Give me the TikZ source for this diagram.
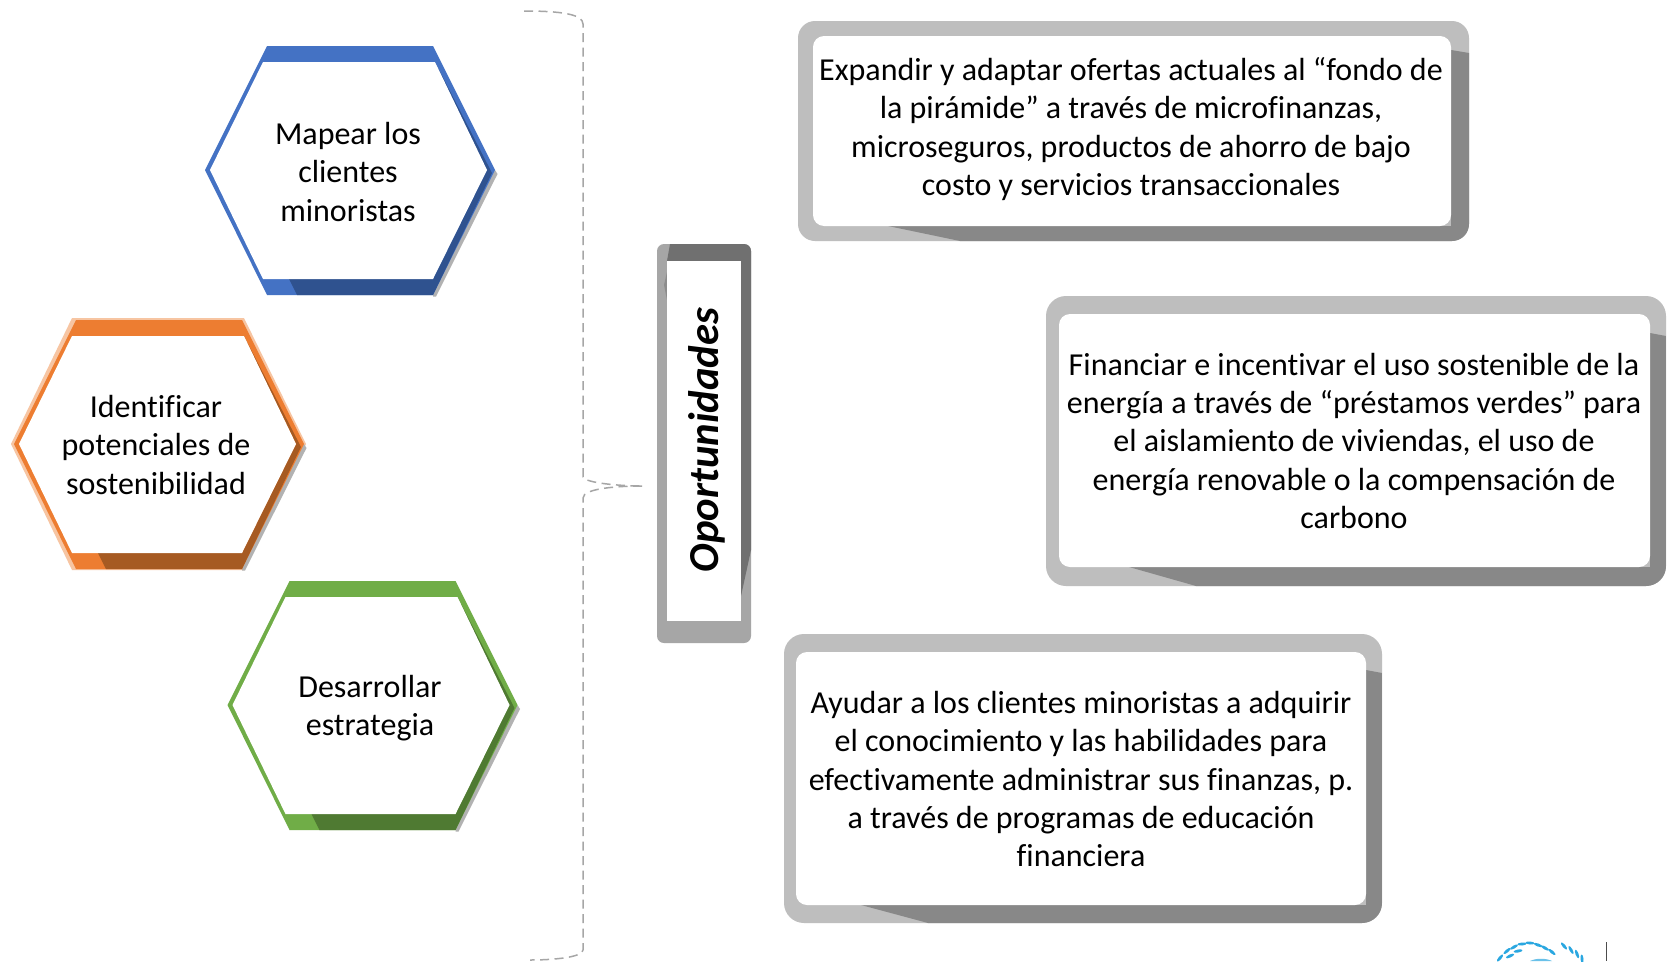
\documentclass[tikz,border=0pt]{standalone}
\usepackage{fontspec}
\setmainfont[Ligatures=NoCommon]{Carlito}
\tikzset{
  txt/.style={align=center,font=\fontsize{32}{38.3}\selectfont,text=black,inner sep=0pt},
  dashline/.style={draw=black!35,line width=1.5pt,dash pattern=on 9pt off 5.5pt},
  leaf/.style={fill=logoblue,draw=none}
}
\newcommand{\hexa}[4]{%
 \begin{scope}[shift={(#3,#4)}]
  \fill[black!30] (495,170)--(497.5,174)--(436,296.5)--(433,296.5)--(433,290)--cycle;
  \fill[#1] (267,46)--(433,46)--(495,170)--(433,295)--(267,295)--(205,170)--cycle;
  \fill[#2] (435,62)--(492,173)--(433,295)--(297,295)--(289,279)--(433,279)--(487,170)--cycle;
  \fill[white] (263,62)--(435,62)--(487,170)--(433,279)--(263,279)--(210,170)--cycle;
 \end{scope}}
\newcommand{\frbox}[4]{% outer rect, inner rect, radius, dark polygon
 \fill[frlight,rounded corners=#3] #1;
 \begin{scope}
  \clip[rounded corners=#3] #1;
  \fill[frdark] #4;
 \end{scope}
 \fill[white,rounded corners=11pt] #2;}
\newcommand{\lf}[3]{\fill[leaf] (#1,#2) ellipse[x radius=4.5pt,y radius=1.5pt,rotate=#3];}
\definecolor{frlight}{HTML}{BEBEBE}
\definecolor{frdark}{HTML}{888888}
\definecolor{blueA}{HTML}{4472C4}
\definecolor{blueB}{HTML}{2F528F}
\definecolor{orangeA}{HTML}{ED7D31}
\definecolor{orangeB}{HTML}{A65A22}
\definecolor{greenA}{HTML}{70AD47}
\definecolor{greenB}{HTML}{4F7A32}
\definecolor{logoblue}{HTML}{2AA7E0}
\begin{document}
\begin{tikzpicture}[x=1pt,y=-1pt]
\useasboundingbox (0,0) rectangle (1667,961);
\fill[white] (0,0) rectangle (1667,961);
% hexagons
\hexa{blueA}{blueB}{0}{0}
\fill[orangeA!45] (72,318)--(244,318)--(306,444)--(244,570)--(72,570)--(11,444)--cycle;
\hexa{orangeA}{orangeB}{-191}{274}
\hexa{greenA}{greenB}{22.5}{535}
\node[txt] (h1) at (348,172) {Mapear los\\clientes\\minoristas};
\node[txt] (h2) at (156,445) {Identificar\\potenciales de\\sostenibilidad};
\node[txt] (h3) at (370,708) {Desarrollar\\estrategia};
% brace
\draw[dashline] (524,11) .. controls (560,11) and (583,14) .. (583,24) -- (583,477) .. controls (585,483) and (620,486) .. (642,486);
\draw[dashline] (642,486) .. controls (620,486) and (583,488) .. (583,498) -- (583,950) .. controls (583,957) and (555,960) .. (530,960);
% tall box
\fill[black!35,rounded corners=7pt] (657,244) rectangle (751,643);
\begin{scope}
 \clip[rounded corners=7pt] (657,244) rectangle (751,643);
 \fill[black!56] (670,244)--(751,244)--(751,550)--(741,596)--(741,261)--(667,261)--cycle;
\end{scope}
\fill[black!45] (667,272)--(664,285)--(667,300)--cycle;
\fill[white] (667,261) rectangle (741,621);
\node[inner sep=0pt,rotate=90,font=\fontsize{42.7}{50}\selectfont\bfseries\itshape] (op) at (706.5,440) {Oportunidades};
% box 1
\frbox{(798,21) rectangle (1469,241)}{(813,36) rectangle (1451,226)}{17pt}{(888,226)--(1451,226)--(1451,50)--(1469,53)--(1469,241)--(960,241)--cycle}
\node[txt] (b1) at (1131,129) {Expandir y adaptar ofertas actuales al “fondo de\\la pirámide” a través de microfinanzas,\\microseguros, productos de ahorro de bajo\\costo y servicios transaccionales};
% box 2
\frbox{(1046,296) rectangle (1666,586)}{(1059,314) rectangle (1650,567)}{20pt}{(1129,567)--(1650,567)--(1650,333)--(1666,336)--(1666,586)--(1196,586)--cycle}
\node[txt] (b2) at (1354,441) {Financiar e incentivar el uso sostenible de la\\energía a través de “préstamos verdes” para\\el aislamiento de viviendas, el uso de\\energía renovable o la compensación de\\carbono};
% box 3
\frbox{(784,634) rectangle (1382,923)}{(796,652) rectangle (1366,905)}{20pt}{(861,905)--(1366,905)--(1366,670)--(1382,673)--(1382,923)--(928,923)--cycle}
\node[txt] (b3) at (1081,779) {Ayudar a los clientes minoristas a adquirir\\el conocimiento y las habilidades para\\efectivamente administrar sus finanzas, p.\\a través de programas de educación\\financiera};
% logo fragment
\lf{1500}{958}{50}\lf{1507}{951}{40}\lf{1514}{947}{30}\lf{1522}{944}{5}\lf{1530}{943}{-5}\lf{1538}{945}{-20}\lf{1545}{948}{-30}\lf{1552}{952}{-40}
\lf{1510}{956}{25}\lf{1518}{951}{10}
\lf{1564}{946}{-50}\lf{1571}{950}{-60}\lf{1577}{954}{-70}\lf{1582}{959}{-85}
\fill[logoblue!70] (1530,961) .. controls (1536,958) and (1546,958) .. (1552,961) -- cycle;
\draw[black!70,line width=1pt] (1606,942)--(1606,961);
\end{tikzpicture}
\end{document}
